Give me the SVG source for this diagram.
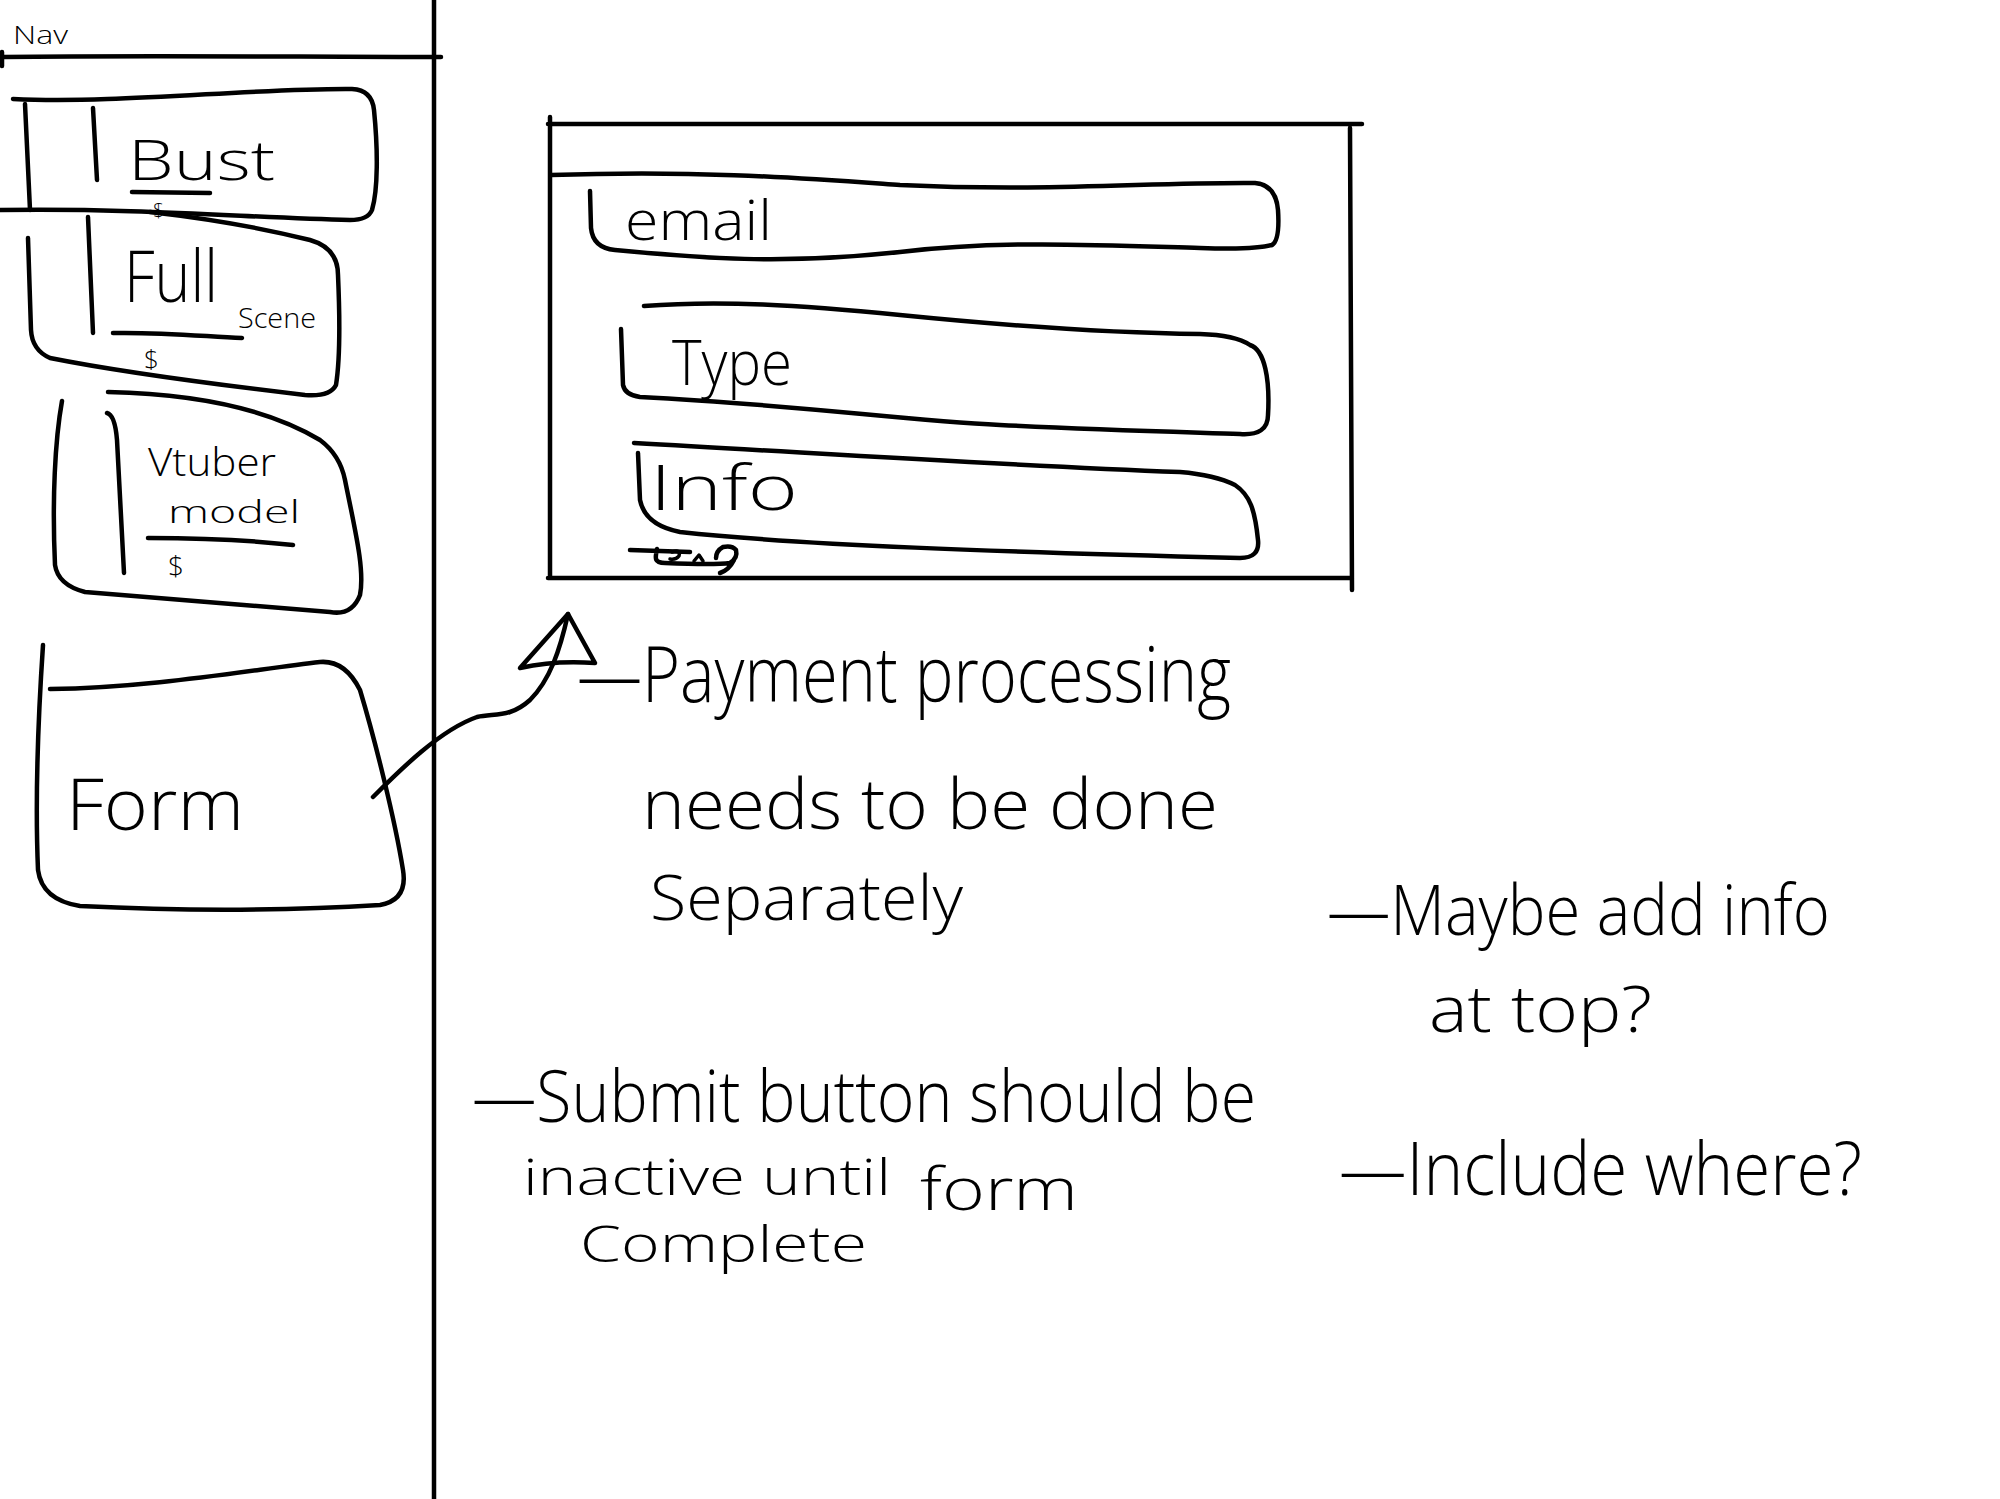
<svg xmlns="http://www.w3.org/2000/svg" width="2000" height="1499" viewBox="0 0 2000 1499">
<style>
.s{fill:none;stroke:#000;stroke-width:4.5;stroke-linecap:round;stroke-linejoin:round}
.t{font-family:"Open Sans","Liberation Sans",sans-serif;font-weight:300;fill:#000}
</style>
<rect width="2000" height="1499" fill="#fff"/>
<g id="nav">
<text class="t" x="13" y="44" font-size="26" textLength="55" lengthAdjust="spacingAndGlyphs">Nav</text>
<path class="s" d="M2,52 L2,66 M4,57 C150,55 300,57 441,57"/>
<path class="s" d="M434,0 L434,1499"/>
</g>
<g id="bust">
<path class="s" d="M13,99 C120,104 250,88 352,89 Q372,90 374,110 C378,150 378,190 372,210 Q368,220 350,220 C250,218 150,208 0,210"/>
<path class="s" d="M25,104 L30,210 M93,108 L97,180"/>
<text class="t" x="128" y="180" font-size="56" textLength="147" lengthAdjust="spacingAndGlyphs">Bust</text>
<path class="s" d="M132,192 L210,193"/>
<text class="t" x="153" y="218" font-size="20">$</text>
</g>
<g id="fullscene">
<path class="s" d="M150,212 C220,220 270,230 310,240 Q338,248 338,275 C340,320 340,360 336,385 Q330,397 305,395 C220,385 120,372 50,358 Q32,350 31,330 L28,238"/>
<path class="s" d="M88,217 L93,333"/>
<text class="t" x="124" y="302" font-size="72" textLength="94" lengthAdjust="spacingAndGlyphs">Full</text>
<text class="t" x="238" y="328" font-size="28" textLength="78" lengthAdjust="spacingAndGlyphs">Scene</text>
<path class="s" d="M113,333 C160,332 200,336 242,338"/>
<text class="t" x="144" y="368" font-size="26">$</text>
</g>
<g id="vtuber">
<path class="s" d="M108,392 C200,394 270,410 320,440 Q340,455 345,480 C355,530 365,570 360,595 Q352,616 330,612 C250,605 150,598 85,592 Q58,585 55,565 C52,500 55,440 62,401"/>
<path class="s" d="M107,413 Q115,415 117,440 L124,573"/>
<text class="t" x="148" y="476" font-size="38" textLength="128" lengthAdjust="spacingAndGlyphs">Vtuber</text>
<text class="t" x="168" y="523" font-size="32" textLength="132" lengthAdjust="spacingAndGlyphs">model</text>
<path class="s" d="M148,538 C200,538 250,540 293,545"/>
<text class="t" x="168" y="576" font-size="28">$</text>
</g>
<g id="form">
<path class="s" d="M50,689 C150,688 250,670 320,662 Q345,660 360,690 C375,740 395,820 403,870 Q408,900 380,905 C300,910 200,912 80,906 Q42,900 38,870 C35,800 38,720 43,645"/>
<text class="t" x="66" y="830" font-size="72" textLength="178" lengthAdjust="spacingAndGlyphs">Form</text>
</g>
<g id="formframe">
<path class="s" d="M550,117 L550,578 M548,124 L1362,124 M1350,128 L1352,590 M548,578 L1352,578"/>
</g>
<g id="email">
<path class="s" d="M590,191 L591,228 Q593,248 615,250 C700,258 780,265 900,252 C1000,240 1100,245 1200,248 Q1255,250 1272,245 Q1280,240 1278,210 Q1276,185 1255,183 C1150,182 1050,192 900,185 C800,178 700,170 551,175"/>
<text class="t" x="625" y="240" font-size="56" textLength="147" lengthAdjust="spacingAndGlyphs">email</text>
</g>
<g id="type">
<path class="s" d="M621,329 L623,385 Q625,395 640,397 C800,405 900,420 1000,425 C1100,430 1180,432 1240,434 Q1268,436 1268,415 C1270,380 1265,350 1250,345 Q1235,335 1200,334 C1100,333 1000,325 900,315 C800,305 720,300 644,306"/>
<text class="t" x="672" y="385" font-size="62" textLength="120" lengthAdjust="spacingAndGlyphs">Type</text>
</g>
<g id="info">
<path class="s" d="M638,453 L640,500 Q645,525 680,532 C800,545 1000,552 1240,558 Q1260,558 1258,540 C1255,510 1250,495 1235,485 Q1215,475 1180,472 C1000,465 850,455 634,443"/>
<text class="t" x="650" y="510" font-size="62" textLength="148" lengthAdjust="spacingAndGlyphs">Info</text>
</g>
<g id="submitbtn">
<path class="s" d="M630,550 L690,552 M657,549 C655,558 654,563 665,563 C690,564 715,565 730,563 Q738,558 736,550 Q732,545 723,547 Q716,551 716,558 M734,560 Q729,570 720,573"/>
<path class="s" style="stroke-width:3.5" d="M672,552 Q681,549 679,556 Q676,560 670,559 M694,561 L699,555 L703,561"/>
</g>
<g id="connectors">
<path class="s" d="M373,797 C400,770 440,730 477,717 C495,713 510,718 530,700 C550,680 560,650 568,614"/>
<path class="s" d="M568,614 L520,668 Q555,660 595,663 Z"/>
</g>
<g id="notes">
<text class="t" x="577" y="702" font-size="78" textLength="654" lengthAdjust="spacingAndGlyphs">—Payment processing</text>
<text class="t" x="642" y="829" font-size="70" textLength="576" lengthAdjust="spacingAndGlyphs">needs to be done</text>
<text class="t" x="650" y="920" font-size="62" textLength="313" lengthAdjust="spacingAndGlyphs">Separately</text>
<text class="t" x="472" y="1122" font-size="72" textLength="784" lengthAdjust="spacingAndGlyphs">—Submit button should be</text>
<text class="t" font-size="50"><tspan x="523" y="1195" textLength="385" lengthAdjust="spacingAndGlyphs">inactive until </tspan><tspan x="920" y="1210" font-size="58" textLength="158" lengthAdjust="spacingAndGlyphs">form</tspan></text>
<text class="t" x="580" y="1262" font-size="50" textLength="287" lengthAdjust="spacingAndGlyphs">Complete</text>
<text class="t" x="1327" y="935" font-size="70" textLength="503" lengthAdjust="spacingAndGlyphs">—Maybe add info</text>
<text class="t" x="1429" y="1032" font-size="64" textLength="223" lengthAdjust="spacingAndGlyphs">at top?</text>
<text class="t" x="1339" y="1195" font-size="74" textLength="523" lengthAdjust="spacingAndGlyphs">—Include where?</text>
</g>
</svg>
